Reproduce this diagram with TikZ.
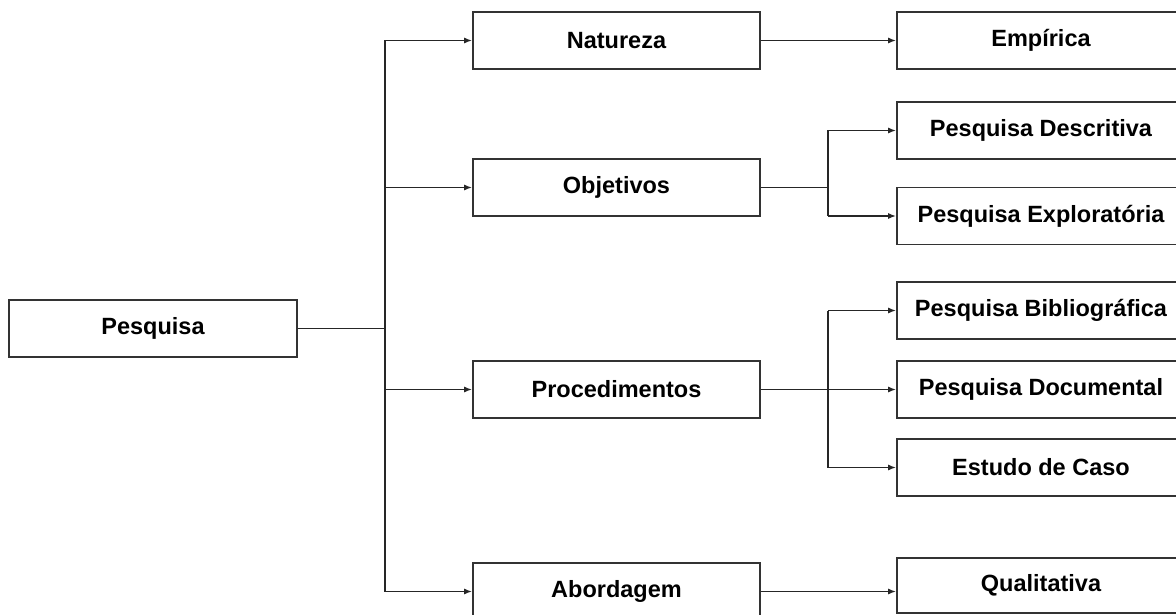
\documentclass[tikz,border=0pt]{standalone}
\usepackage{fontspec}
\setmainfont{Liberation Sans}
\usetikzlibrary{arrows.meta}
\begin{document}
\begin{tikzpicture}[x=1pt,y=-1pt,
  box/.style={draw=black!80, line width=1.6pt, minimum width=287pt, minimum height=57pt, inner sep=0pt, font=\bfseries\fontsize{23.5}{26}\selectfont, anchor=center, fill=white},
  conn/.style={draw=black!85, line width=1.6pt},
  arr/.style={conn, -{Latex[length=8pt,width=6pt]}}]
\useasboundingbox (0,0) rectangle (1176,615);
\clip (0,0) rectangle (1176,615);
\fill[white] (0,0) rectangle (1176,615);
\node[box, minimum width=288pt] (pesq) at (153,328.5) {Pesquisa};
\node[box] (nat) at (616.5,40.5) {Natureza};
\node[box] (obj) at (616.5,187.5) {Objetivos};
\node[box] (proc) at (616.5,389.5) {Procedimentos};
\node[box] (abo) at (616.5,591.5) {Abordagem};
\node[box, minimum width=288pt] (emp) at (1041,40.5) {Empírica};
\node[box, minimum width=288pt] (desc) at (1041,130.5) {Pesquisa Descritiva};
\node[box, minimum width=288pt] (expl) at (1041,216) {Pesquisa Exploratória};
\node[box, minimum width=288pt] (bib) at (1041,310.5) {Pesquisa Bibliográfica};
\node[box, minimum width=288pt] (doc) at (1041,389.5) {Pesquisa Documental};
\node[box, minimum width=288pt] (est) at (1041,467.5) {Estudo de Caso};
\node[box, minimum width=288pt, minimum height=55pt] (qual) at (1041,585.5) {Qualitativa};
\coordinate (trunk) at (385,328.5);
\coordinate (ob) at (828,187.5);
\coordinate (pb) at (828,389.5);
\draw[conn] (pesq.east) -- (trunk);
\draw[conn] (trunk |- nat) -- (trunk |- abo);
\draw[arr] (trunk |- nat) -- (nat.west);
\draw[arr] (trunk |- obj) -- (obj.west);
\draw[arr] (trunk |- proc) -- (proc.west);
\draw[arr] (trunk |- abo) -- (abo.west);
\draw[arr] (nat.east) -- (emp.west);
\draw[arr] (abo.east) -- (qual.west |- abo.east);
\draw[conn] (obj.east) -- (ob);
\draw[arr] (ob |- desc) -- (desc.west);
\draw[arr] (ob |- expl) -- (expl.west);
\draw[conn] (ob |- desc) -- (ob |- expl);
\draw[arr] (proc.east) -- (doc.west);
\draw[arr] (pb |- bib) -- (bib.west);
\draw[arr] (pb |- est) -- (est.west);
\draw[conn] (pb |- bib) -- (pb |- est);
\end{tikzpicture}
\end{document}
